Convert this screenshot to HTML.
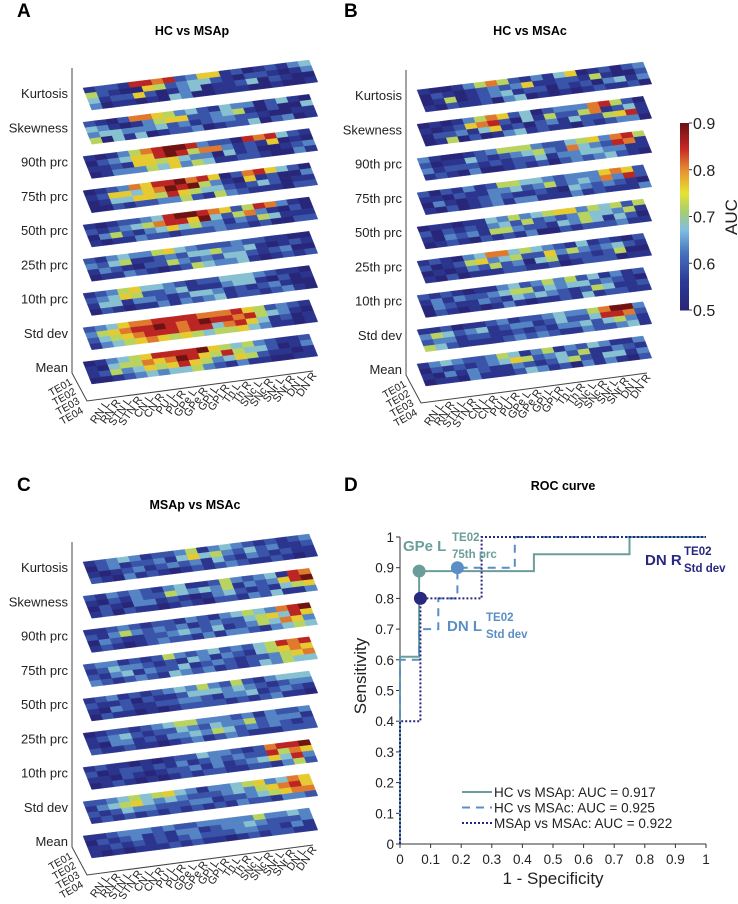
<!DOCTYPE html>
<html><head><meta charset="utf-8"><style>
body{margin:0;background:#fff;}
svg text{font-family:"Liberation Sans","DejaVu Sans",sans-serif;}
</style></head><body>
<svg id="fig" width="738" height="899" viewBox="0 0 738 899" xmlns="http://www.w3.org/2000/svg">
<g id="heat"></g>
<g id="roc"></g>
</svg>
<script>
const features = ["Kurtosis","Skewness","90th prc","75th prc","50th prc","25th prc","10th prc","Std dev","Mean"];
const echoes = ["TE01","TE02","TE03","TE04"];
const regions = ["RN L","RN R","STN L","STN R","CN L","CN R","PU L","PU R","GPe L","GPe R","GPi L","GPi R","Th L","Th R","SNc L","SNc R","SNr L","SNr R","DN L","DN R"];
// AUC level digits 0..9 -> 0.5..0.9
const aucA = [
"12218878236612012134 52100652344210221013 41226201340112402100 30110104300111001001",
"21027765342143302410 43101356622345102004 34433342312332210011 50414012230122402301",
"10135789983220878421 02346689857731216010 11216656433041200123 01333546354112210031",
"01237688978602786420 12664679895310612003 01446658654421242011 00212233521532111022",
"10122348998762587310 21234578869425731020 03521346453313254111 10113221222322120022",
"21343356432223221100 32451123244533410121 13210225323244212300 01132101254334101212",
"12356443212244432110 23465223411134410201 14413321244312123100 02101131323412212310",
"23467788887778652321 35678898789887854310 24567888788478641201 13456765654556431101",
"01345688889654532112 10455767986585442013 12534656865346521101 00123434453213110011"];
const aucB = [
"10013575213146012023 02101232361122151002 01501234122021203413 10211203401010121120",
"01013576240233378520 10126782041522571241 02231461202314225681 01502013412110212330",
"31001235553224563785 20114212345327432871 31222121224133443311 12103001212023234210",
"20213125544323336762 11021133423523437382 03101232112104323210 10201231331113121113",
"01101143534566354525 20212134252323544351 10323155322143541420 01210212130021222311",
"12103477454321412102 20125634522635323421 01013252304512212500 10201112211201222011",
"21210113423535241312 13132234552434423210 03211321434321254112 02101013101121412211",
"11201123122343357993 35423412331242248872 23312211212133424531 54211112323211322341",
"13432235413513243113 02121234652342511321 10313211321245214413 01103111243120313102"];
const aucC = [
"12343122351343212123 02312231464532423112 10123123231421321211 21031210121232112101",
"21323213411253234187 10213225434351323689 02103312101342121456 12021101210221324113",
"11232122132134543789 21353232312322456486 03211223432412354763 12101232213133213454",
"23312125323423245878 12433212143132145676 21341322412321223567 32123214323121243544",
"12312123435325213444 21120211244434321233 10321122332133412321 02110101222212123110",
"01221234553332313223 12342122432433523331 10331213343542323212 21121101231232111222",
"12110101224332127889 20122121312323228576 11021012231312346483 01210101212211221352",
"22345456431334563476 13456434322234356786 21243322233122345677 12121212121213221332",
"11233323223333353343 02123121331233432223 11212121232223322131 10101112121101212211"];
const cbTicks = [0.5,0.6,0.7,0.8,0.9];
// ROC data
const fpr1 = [0,0,0.0625,0.0625,0.4375,0.4375,0.75,0.75,1];
const tpr1 = [0,0.61,0.61,0.889,0.889,0.944,0.944,1,1];
const fpr2 = [0,0,0.0625,0.0625,0.125,0.125,0.1875,0.1875,0.375,0.375,1];
const tpr2 = [0,0.6,0.6,0.7,0.7,0.8,0.8,0.9,0.9,1,1];
const fpr3 = [0,0,0.0667,0.0667,0.2667,0.2667,1];
const tpr3 = [0,0.4,0.4,0.8,0.8,1,1];
const rocTicks = [0,0.1,0.2,0.3,0.4,0.5,0.6,0.7,0.8,0.9,1];

const NS="http://www.w3.org/2000/svg";
function mk(tag,attrs,parent,txt){const e=document.createElementNS(NS,tag);for(const k in attrs)e.setAttribute(k,attrs[k]);if(txt!==undefined)e.textContent=txt;parent.appendChild(e);return e;}
const cmapStops=[[0,[40,38,120]],[0.15,[44,58,150]],[0.3,[70,112,188]],[0.43,[128,190,225]],[0.53,[168,206,112]],[0.63,[230,226,50]],[0.75,[230,146,48]],[0.87,[200,40,38]],[1,[110,18,18]]];
function jet(t){t=Math.max(0,Math.min(1,t));for(let i=1;i<cmapStops.length;i++){const a=cmapStops[i-1],b=cmapStops[i];if(t<=b[0]){const f=(t-a[0])/(b[0]-a[0]);const c=a[1].map((v,k)=>Math.round(v+(b[1][k]-v)*f));return `rgb(${c[0]},${c[1]},${c[2]})`;}}return 'rgb(110,18,18)';}
function aucToT(a){return (a-0.5)/0.4;}
const heat=document.getElementById('heat');
const col=[11.3,-1.4], row=[2.2,5.5];
function panel(data,ox,oy,letter,lx,ly,title,tx,ty,name){
  const g=mk('g',{},heat);
  
  
  let t=mk('text',{x:lx,y:ly,'font-size':19,'font-weight':'bold'},g,letter);
  
  
  t=mk('text',{x:tx,y:ty,'font-size':12.5,'font-weight':'bold','text-anchor':'middle'},g,title);
  
  
  const ax=ox-11, ay=oy;
  const axis=mk('polyline',{points:`${ax},${ay-20} ${ax},${ay+285} ${ax+15},${ay+313} ${ax+241},${ay+283}`,fill:'none',stroke:'#444','stroke-width':1},g);
  
  
  data.forEach((s,k)=>{
    const rows=s.split(' ');
    const sy=oy+k*34.25;
    rows.forEach((r,i)=>{
      for(let j=0;j<r.length;j++){
        const v=0.5+(+r[j])*0.4/9;
        const p=(a,b)=>[ox+b*col[0]+a*row[0],sy+b*col[1]+a*row[1]];
        const pts=[p(i,j),p(i,j+1),p(i+1,j+1),p(i+1,j)].map(q=>q[0].toFixed(1)+','+q[1].toFixed(1)).join(' ');
        const c=mk('polygon',{points:pts,fill:jet(aucToT(v)),stroke:jet(aucToT(v)),'stroke-width':0.4},g);
        
        
      }
    });
    const lb=mk('text',{x:ax-4,y:sy+10,'font-size':13,'text-anchor':'end',fill:'#222'},g,features[k]);
    
    
  });
  echoes.forEach((e,i)=>{
    const x=ax+1+i*3.7, y=ay+296+i*9.5;
    const l=mk('text',{x:x,y:y,'font-size':10.5,'text-anchor':'end',fill:'#222',transform:`rotate(-30 ${x} ${y})`},g,e);
    
    
  });
  regions.forEach((r,j)=>{
    const x=ax+38+j*10.9, y=ay+316-j*1.5;
    const l=mk('text',{x:x,y:y,'font-size':11,'text-anchor':'end',fill:'#222',transform:`rotate(-55 ${x} ${y})`},g,r);
    
    
  });
}
panel(aucA,83,88,'A',17,17,'HC vs MSAp',192,35,'panel-a');
panel(aucB,417,90,'B',344,17,'HC vs MSAc',530,35,'panel-b');
panel(aucC,83,562,'C',17,491,'MSAp vs MSAc',195,509,'panel-c');
// colorbar
(function(){
  const g=mk('g',{},heat);
  
  
  const y0=310,y1=123,x=680,w=9;
  const ys=v=>y0+(v-0.5)/0.4*(y1-y0);
  for(let i=0;i<100;i++){
    const a=0.5+i*0.004;
    const r=mk('rect',{x:x,y:ys(a+0.004),width:w,height:(y0-y1)/100+0.5,fill:jet(i/99)},g);
    
    
  }
  cbTicks.forEach(v=>{
    const tk=mk('line',{x1:x+w,x2:x+w+3,y1:ys(v),y2:ys(v),stroke:'#333'},g);
    
    
    const t=mk('text',{x:x+w+4,y:ys(v)+6,'font-size':16,fill:'#222'},g,v.toFixed(1));
    
    
  });
  const t=mk('text',{x:737,y:217,'font-size':17,'text-anchor':'middle',fill:'#222',transform:'rotate(-90 737 217)'},g,'AUC');
  
  
})();
// ROC
(function(){
  const g=document.getElementById('roc');
  const X=v=>400+v*306, Y=v=>844-v*307;
  let t=mk('text',{x:344,y:491,'font-size':19,'font-weight':'bold'},g,'D');
  
  
  t=mk('text',{x:563,y:490,'font-size':12.5,'font-weight':'bold','text-anchor':'middle'},g,'ROC curve');
  
  
  const ax=mk('polyline',{points:`${X(0)},${Y(1)} ${X(0)},${Y(0)} ${X(1)},${Y(0)}`,fill:'none',stroke:'#333','stroke-width':1},g);
  
  
  rocTicks.forEach(v=>{
    const lab=(v===0||v===1)?String(v):v.toFixed(1);
    let l=mk('line',{x1:X(v),x2:X(v),y1:Y(0),y2:Y(0)+4,stroke:'#333'},g);
    
    
    let tt=mk('text',{x:X(v),y:Y(0)+20,'font-size':13.5,'text-anchor':'middle',fill:'#222'},g,lab);
    
    
    l=mk('line',{x1:X(0)-4,x2:X(0),y1:Y(v),y2:Y(v),stroke:'#333'},g);
    
    
    tt=mk('text',{x:X(0)-6,y:Y(v)+5,'font-size':13.5,'text-anchor':'end',fill:'#222'},g,lab);
    
    
  });
  t=mk('text',{x:553,y:884,'font-size':17,'text-anchor':'middle',fill:'#222'},g,'1 - Specificity');
  
  
  t=mk('text',{x:366,y:676,'font-size':17,'text-anchor':'middle',fill:'#222',transform:'rotate(-90 366 676)'},g,'Sensitivity');
  
  
  const series=[[fpr1,tpr1,'#6b9e9b','none',2,'roc-hc-vs-msap'],[fpr2,tpr2,'#5b8ec4','8 6',2,'roc-hc-vs-msac'],[fpr3,tpr3,'#27287f','2 2',2,'roc-msap-vs-msac']];
  series.forEach(s=>{
    const pts=s[0].map((x,i)=>X(x).toFixed(1)+','+Y(s[1][i]).toFixed(1)).join(' ');
    const p=mk('polyline',{points:pts,fill:'none',stroke:s[2],'stroke-width':s[4],'stroke-dasharray':s[3]},g);
    
    
  });
  const marks=[[fpr1[2],tpr1[3],'#6b9e9b'],[fpr2[6],tpr2[7],'#5b8ec4'],[fpr3[2],tpr3[3],'#27287f']];
  marks.forEach(m=>{
    const c=mk('circle',{cx:X(m[0]),cy:Y(m[1]),r:6.5,fill:m[2]},g);
    
    
  });
  function ann(x,y,main,col,name){
    const tx=mk('text',{x:x,y:y,'font-size':15,'font-weight':'bold',fill:col},g,main);
    
    
    return tx;
  }
  function supsub(x,y,col,sub){
    let a=mk('text',{x:x,y:y-10,'font-size':11.5,'font-weight':'bold',fill:col},g,'TE02');
    
    
    a=mk('text',{x:x,y:y+7,'font-size':11.5,'font-weight':'bold',fill:col},g,sub);
    
    
  }
  ann(403,551,'GPe L','#6b9e9b','annotation-gpe-l'); supsub(452,551,'#6b9e9b','75th prc');
  ann(645,565,'DN R','#27287f','annotation-dn-r'); supsub(684,565,'#27287f','Std dev');
  ann(447,631,'DN L','#5b8ec4','annotation-dn-l'); supsub(486,631,'#5b8ec4','Std dev');
  const leg=[['HC vs MSAp: AUC = 0.917','#6b9e9b','none'],['HC vs MSAc: AUC = 0.925','#5b8ec4','8 6'],['MSAp vs MSAc: AUC = 0.922','#27287f','2 2']];
  leg.forEach((l,i)=>{
    const y=792+i*15.5;
    const ln=mk('line',{x1:462,x2:492,y1:y,y2:y,stroke:l[1],'stroke-width':2,'stroke-dasharray':l[2]},g);
    
    
    const tx=mk('text',{x:494,y:y+5,'font-size':13.5,fill:'#222'},g,l[0]);
    
    
  });
})();
</script>
</body></html>
